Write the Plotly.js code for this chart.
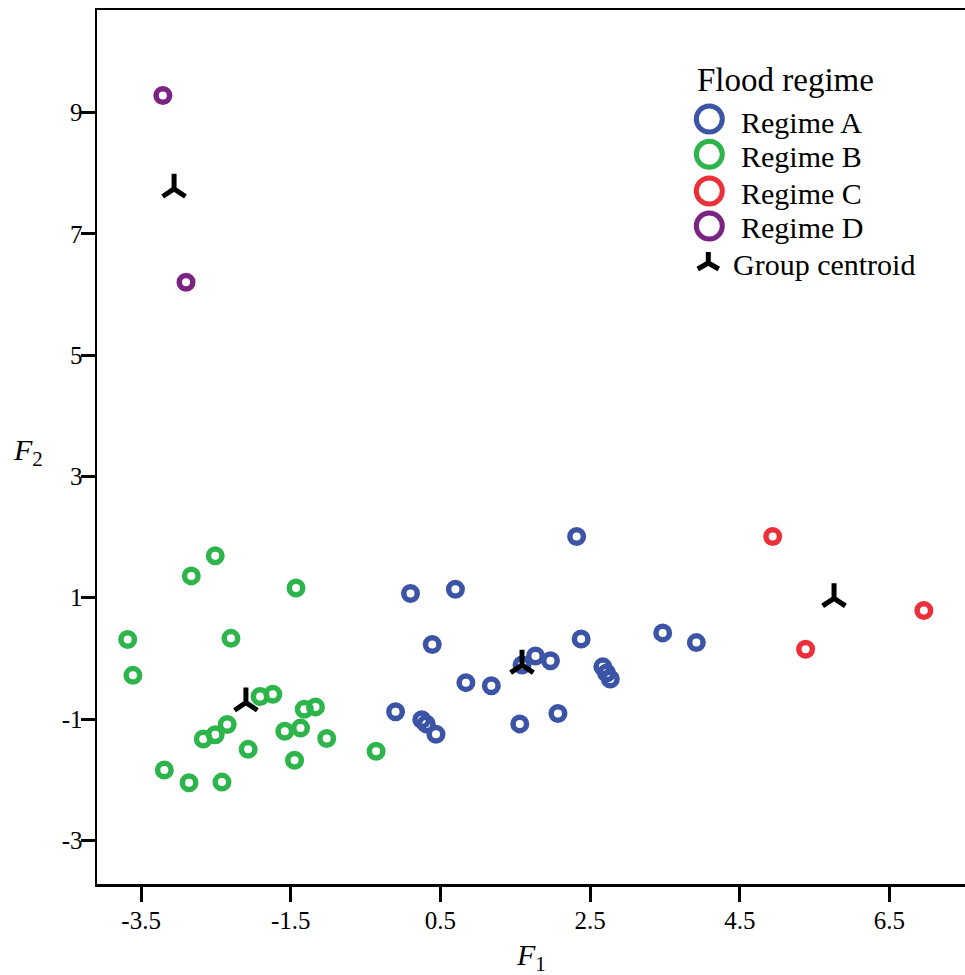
<!DOCTYPE html>
<html>
<head>
<meta charset="utf-8">
<script src="https://cdn.plot.ly/plotly-3.0.1.min.js"></script>
<style>html,body{margin:0;padding:0;background:#fff;}</style>
</head>
<body>
<div id="chart" style="width:965px;height:975px;"></div>
<script>
// ---- data ----
const regimeA_x = [2.32, 0.10, 0.70, 0.39, 2.38, 3.47, 3.92, 1.77, 1.97, 1.59, 2.67, 2.72, 2.77, 0.84, 1.18, -0.10, 0.25, 0.31, 0.44, 1.56, 2.07];
const regimeA_y = [2.01, 1.07, 1.14, 0.23, 0.32, 0.42, 0.26, 0.04, -0.04, -0.11, -0.14, -0.24, -0.34, -0.40, -0.45, -0.88, -1.01, -1.08, -1.25, -1.08, -0.91];

const regimeB_x = [-2.51, -2.83, -1.43, -3.68, -2.30, -3.61, -1.91, -1.74, -1.32, -1.17, -2.35, -2.51, -2.67, -1.58, -1.37, -1.02, -2.07, -0.36, -1.45, -3.19, -2.86, -2.42];
const regimeB_y = [1.69, 1.36, 1.16, 0.31, 0.33, -0.28, -0.63, -0.59, -0.84, -0.80, -1.09, -1.26, -1.33, -1.20, -1.15, -1.32, -1.50, -1.53, -1.68, -1.84, -2.05, -2.04];

const regimeC_x = [4.94, 6.96, 5.38];
const regimeC_y = [2.01, 0.79, 0.15];

const regimeD_x = [-3.21, -2.90];
const regimeD_y = [9.28, 6.20];

const centroid_x = [1.59, -2.10, 5.76, -3.06];
const centroid_y = [-0.11, -0.73, 0.99, 7.74];

const seriesNames = ["Regime A", "Regime B", "Regime C", "Regime D"];
const centroidName = "Group centroid";
const legendTitle = "Flood regime";

const xTickVals = [-3.5, -1.5, 0.5, 2.5, 4.5, 6.5];
const xTickText = ["-3.5", "-1.5", "0.5", "2.5", "4.5", "6.5"];
const yTickVals = [-3, -1, 1, 3, 5, 7, 9];
const yTickText = ["-3", "-1", "1", "3", "5", "7", "9"];

// ---- styles ----
const colors = ["#3b54a5", "#2db44a", "#ec2f38", "#7b2382"];
const FONT = "Liberation Serif, Times New Roman, serif";

const W = 965, H = 975;
const M = {l: 97, r: 0, t: 10, b: 91};
const PW = W - M.l - M.r, PH = H - M.t - M.b;
const px = v => (v - M.l) / PW;          // pixel x -> paper x
const py = v => (H - M.b - v) / PH;      // pixel y -> paper y

function ring(name, x, y, color) {
  return {
    type: "scatter", mode: "markers", name: name, x: x, y: y, showlegend: false,
    marker: {symbol: "circle-open", size: 13.5, color: color, line: {color: color, width: 5.5}},
    hoverinfo: "x+y+name"
  };
}

const traces = [
  ring(seriesNames[0], regimeA_x, regimeA_y, colors[0]),
  ring(seriesNames[1], regimeB_x, regimeB_y, colors[1]),
  ring(seriesNames[2], regimeC_x, regimeC_y, colors[2]),
  ring(seriesNames[3], regimeD_x, regimeD_y, colors[3]),
  {
    type: "scatter", mode: "markers", name: centroidName, x: centroid_x, y: centroid_y, showlegend: false,
    marker: {symbol: "y-up", size: 19, color: "#000", line: {color: "#000", width: 5}}
  }
];

// ---- custom legend (larger symbols than Plotly's legend allows) ----
const legX = 709.3, legTextX = 739, centTextX = 731;
const legRowsY = [119, 154.3, 191, 226];
const legTextY = [122.5, 157, 193, 228];
const shapes = [];
const annotations = [];
const rPx = 13;
legRowsY.forEach((yy, i) => {
  shapes.push({
    type: "circle", xref: "paper", yref: "paper",
    x0: px(legX - rPx), x1: px(legX + rPx), y0: py(yy + rPx), y1: py(yy - rPx),
    line: {color: colors[i], width: 5}, fillcolor: "rgba(0,0,0,0)"
  });
  annotations.push({
    xref: "paper", yref: "paper", x: px(legTextX), y: py(legTextY[i]),
    xanchor: "left", yanchor: "middle", showarrow: false, text: seriesNames[i],
    font: {family: FONT, size: 30, color: "#000"}
  });
});
// centroid symbol in legend
const cx = 708.3, cy = 263;
shapes.push({
  type: "path", xref: "paper", yref: "paper",
  path: `M${px(cx)},${py(cy - 11)} L${px(cx)},${py(cy)} M${px(cx - 10.5)},${py(cy + 6)} L${px(cx)},${py(cy)} L${px(cx + 10.5)},${py(cy + 6)}`,
  line: {color: "#000", width: 5}
});
annotations.push({
  xref: "paper", yref: "paper", x: px(centTextX), y: py(264),
  xanchor: "left", yanchor: "middle", showarrow: false, text: centroidName,
  font: {family: FONT, size: 30, color: "#000"}
});
annotations.push({
  xref: "paper", yref: "paper", x: px(695), y: py(80),
  xanchor: "left", yanchor: "middle", showarrow: false, text: legendTitle,
  font: {family: FONT, size: 33, color: "#000"}
});
// axis titles
annotations.push({
  xref: "paper", yref: "paper", x: px(531), y: py(957),
  xanchor: "center", yanchor: "middle", showarrow: false, text: "<i>F</i><sub>1</sub>",
  font: {family: FONT, size: 30, color: "#000"}
});
annotations.push({
  xref: "paper", yref: "paper", x: px(28), y: py(452),
  xanchor: "center", yanchor: "middle", showarrow: false, text: "<i>F</i><sub>2</sub>",
  font: {family: FONT, size: 30, color: "#000"}
});

const layout = {
  width: W, height: H,
  margin: M,
  paper_bgcolor: "#fff", plot_bgcolor: "#fff",
  showlegend: false,
  font: {family: FONT, size: 25, color: "#000"},
  xaxis: {
    range: [-4.09, 7.51], tickmode: "array", tickvals: xTickVals, ticktext: xTickText,
    showgrid: false, zeroline: false, showline: true, linecolor: "#000", linewidth: 2.5,
    mirror: true, ticks: "outside", ticklen: 15, tickwidth: 3, tickcolor: "#000",
    ticklabelstandoff: -3,
    tickfont: {family: FONT, size: 25, color: "#000"}
  },
  yaxis: {
    range: [-3.72, 10.69], tickmode: "array", tickvals: yTickVals, ticktext: yTickText,
    showgrid: false, zeroline: false, showline: true, linecolor: "#000", linewidth: 2.5,
    ticks: "outside", ticklen: 14, tickwidth: 3, tickcolor: "#000",
    ticklabelstandoff: -7,
    tickfont: {family: FONT, size: 25, color: "#000"}
  },
  shapes: shapes,
  annotations: annotations
};

Plotly.newPlot("chart", traces, layout, {displayModeBar: false, staticPlot: true});
</script>
</body>
</html>
